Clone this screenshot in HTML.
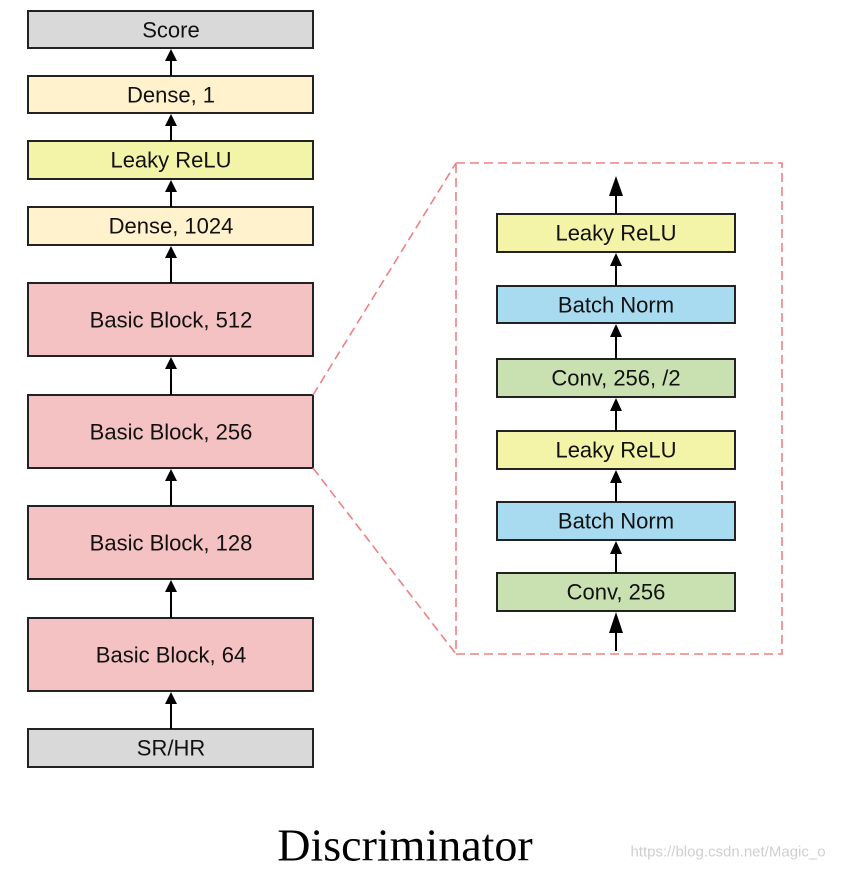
<!DOCTYPE html>
<html><head><meta charset="utf-8"><style>
html,body{margin:0;padding:0;background:#fff;width:841px;height:870px;overflow:hidden}
svg{display:block}
text{font-family:"Liberation Sans",sans-serif;font-size:22px;fill:#111;text-anchor:middle;dominant-baseline:central}
</style></head><body>
<svg width="841" height="870" viewBox="0 0 841 870" xmlns="http://www.w3.org/2000/svg">
<g stroke="#222" stroke-width="2">
<rect x="28" y="11" width="285" height="37" fill="#d9d9d9"/>
<rect x="28" y="76" width="285" height="37" fill="#fff2cc"/>
<rect x="28" y="141" width="285" height="38" fill="#f4f4a8"/>
<rect x="28" y="207" width="285" height="38" fill="#fff2cc"/>
<rect x="28" y="283" width="285" height="73" fill="#f4c2c2"/>
<rect x="28" y="395" width="285" height="73" fill="#f4c2c2"/>
<rect x="28" y="506" width="285" height="73" fill="#f4c2c2"/>
<rect x="28" y="618" width="285" height="73" fill="#f4c2c2"/>
<rect x="28" y="729" width="285" height="38" fill="#d9d9d9"/>
<rect x="497" y="214" width="238" height="38" fill="#f4f4a8"/>
<rect x="497" y="286" width="238" height="37" fill="#a9dbf0"/>
<rect x="497" y="359" width="238" height="38" fill="#c9e0b0"/>
<rect x="497" y="431" width="238" height="38" fill="#f4f4a8"/>
<rect x="497" y="502" width="238" height="38" fill="#a9dbf0"/>
<rect x="497" y="573" width="238" height="38" fill="#c9e0b0"/>
</g>
<g stroke="#000" stroke-width="2">
<line x1="171" y1="76" x2="171" y2="55"/>
<line x1="171" y1="141" x2="171" y2="120"/>
<line x1="171" y1="207" x2="171" y2="186"/>
<line x1="171" y1="283" x2="171" y2="252"/>
<line x1="171" y1="395" x2="171" y2="363"/>
<line x1="171" y1="506" x2="171" y2="475"/>
<line x1="171" y1="618" x2="171" y2="586"/>
<line x1="171" y1="729" x2="171" y2="698"/>
<line x1="616" y1="214" x2="616" y2="192"/>
<line x1="616" y1="286" x2="616" y2="260"/>
<line x1="616" y1="359" x2="616" y2="331"/>
<line x1="616" y1="431" x2="616" y2="405"/>
<line x1="616" y1="502" x2="616" y2="477"/>
<line x1="616" y1="573" x2="616" y2="548"/>
<line x1="616" y1="651" x2="616" y2="625"/>
</g>
<g fill="#000">
<path d="M171 49 L177 61 L165 61Z"/>
<path d="M171 114 L177 126 L165 126Z"/>
<path d="M171 180 L177 192 L165 192Z"/>
<path d="M171 246 L177 258 L165 258Z"/>
<path d="M171 357 L177 369 L165 369Z"/>
<path d="M171 469 L177 481 L165 481Z"/>
<path d="M171 580 L177 592 L165 592Z"/>
<path d="M171 692 L177 704 L165 704Z"/>
<path d="M616 176 L623 196 L609 196Z"/>
<path d="M616 253 L622 266 L610 266Z"/>
<path d="M616 324 L622 337 L610 337Z"/>
<path d="M616 398 L622 411 L610 411Z"/>
<path d="M616 470 L622 483 L610 483Z"/>
<path d="M616 541 L622 554 L610 554Z"/>
<path d="M616 612 L623 633 L609 633Z"/>
</g>
<g stroke="#f08080" stroke-width="1.6" stroke-dasharray="9 5" fill="none">
<rect x="456" y="163" width="326" height="491"/>
<line x1="313" y1="395" x2="456" y2="163"/>
<line x1="313" y1="468" x2="456" y2="654"/>
</g>
<text x="171" y="30">Score</text>
<text x="171" y="95">Dense, 1</text>
<text x="171" y="160">Leaky ReLU</text>
<text x="171" y="226">Dense, 1024</text>
<text x="171" y="320">Basic Block, 512</text>
<text x="171" y="432">Basic Block, 256</text>
<text x="171" y="543">Basic Block, 128</text>
<text x="171" y="655">Basic Block, 64</text>
<text x="171" y="748">SR/HR</text>
<text x="616" y="233">Leaky ReLU</text>
<text x="616" y="305">Batch Norm</text>
<text x="616" y="378">Conv, 256, /2</text>
<text x="616" y="450">Leaky ReLU</text>
<text x="616" y="521">Batch Norm</text>
<text x="616" y="592">Conv, 256</text>
<text x="405" y="845" style="font-family:'Liberation Serif',serif;font-size:46px;fill:#000">Discriminator</text>
<text x="728" y="852" style="font-size:15px;fill:#cfcfcf">https://blog.csdn.net/Magic_o</text>
</svg>
</body></html>
